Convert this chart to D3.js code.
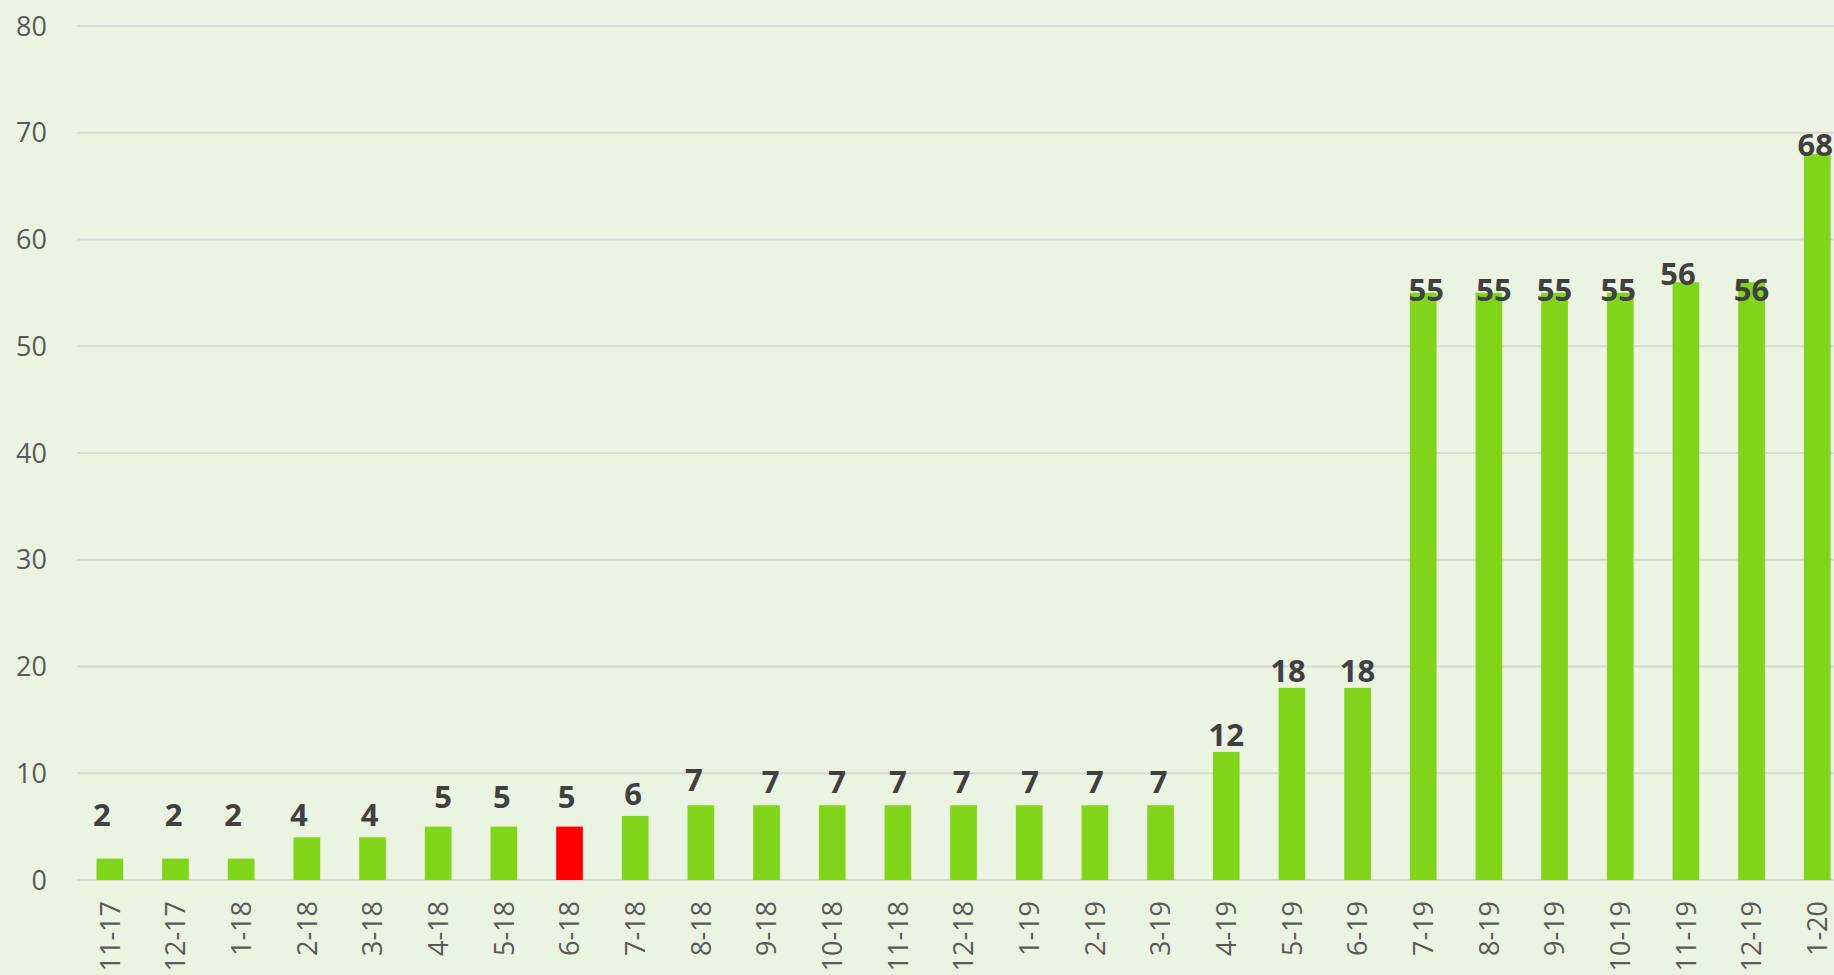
<!DOCTYPE html>
<html>
<head>
<meta charset="utf-8">
<script src="https://cdn.jsdelivr.net/npm/d3@7"></script>
<style>
  body { margin: 0; background: #ebf4e1; overflow: hidden; }
  svg { display: block; }
</style>
</head>
<body>
<div id="chart"></div>
<script>
// months (m-yy)
const categories = ["11-17", "12-17", "1-18", "2-18", "3-18", "4-18", "5-18", "6-18", "7-18",
  "8-18", "9-18", "10-18", "11-18", "12-18", "1-19", "2-19", "3-19", "4-19", "5-19", "6-19",
  "7-19", "8-19", "9-19", "10-19", "11-19", "12-19", "1-20"];
const values = [2, 2, 2, 4, 4, 5, 5, 5, 6, 7, 7, 7, 7, 7, 7, 7, 7, 12, 18, 18, 55, 55, 55, 55, 56, 56, 68];
const highlighted = ["6-18"];
const yTicks = [0, 10, 20, 30, 40, 50, 60, 70, 80];

// labels were dragged by hand in the original, so each one has its own small offset (px)
const labelNudgeY = [-33, -33, -33, -11, -11, -19, -19, -19, -11, -14, -12, -12, -12, -12, -12, -12, -12,
  -6, -6, -6, 8, 8, 8, 8, 3, 19, 2];
const labelNudgeX = [-8, -2, -8, -8, -3, 5, -2, -3, -2, -7, 4, 5, 0, -2, 1, 0, -2,
  0, -4, 0, 3, 5, 0, -2, -8, 0, -2];

const width = 1834;
const height = 975;
const left = 77;
const step = 65.67;

const svg = d3.select("#chart")
    .append("svg")
    .attr("width", width)
    .attr("height", height);

svg.append("rect")
    .attr("width", width)
    .attr("height", height)
    .attr("fill", "#ebf4e1");

const x = d3.scaleBand()
    .domain(categories)
    .range([left, left + step * categories.length])
    .paddingInner(0.594)
    .paddingOuter(0.297);

const y = d3.scaleLinear()
    .domain([0, 80])
    .range([880, 26]);

// gridlines
svg.append("g")
    .selectAll("line")
    .data(yTicks)
    .enter()
    .append("line")
    .attr("x1", left)
    .attr("x2", width)
    .attr("y1", d => y(d))
    .attr("y2", d => y(d))
    .attr("stroke", "#d9d9d9")
    .attr("stroke-width", 2);

// y axis labels
svg.append("g")
    .selectAll("text")
    .data(yTicks)
    .enter()
    .append("text")
    .attr("x", 47)
    .attr("y", d => y(d))
    .attr("dy", "0.36em")
    .attr("text-anchor", "end")
    .style("font-family", "'Open Sans', sans-serif")
    .style("font-size", "27px")
    .style("fill", "#595959")
    .text(d => d);

const data = categories.map((c, i) => ({
    cat: c, value: values[i], dx: labelNudgeX[i], dy: labelNudgeY[i]
}));

// bars
svg.append("g")
    .selectAll("rect")
    .data(data)
    .enter()
    .append("rect")
    .attr("x", d => x(d.cat))
    .attr("width", x.bandwidth())
    .attr("y", d => y(d.value))
    .attr("height", d => y(0) - y(d.value))
    .attr("fill", d => highlighted.includes(d.cat) ? "#ff0000" : "#80d41a");

// value labels
svg.append("g")
    .selectAll("text")
    .data(data)
    .enter()
    .append("text")
    .attr("x", d => x(d.cat) + x.bandwidth() / 2 + d.dx)
    .attr("y", d => y(d.value) + d.dy)
    .attr("text-anchor", "middle")
    .style("font-family", "'Open Sans', sans-serif")
    .style("font-weight", "bold")
    .style("font-size", "31px")
    .style("fill", "#404040")
    .text(d => d.value);

// category labels, rotated
svg.append("g")
    .selectAll("text")
    .data(categories)
    .enter()
    .append("text")
    .attr("transform", d => `translate(${x(d) + x.bandwidth() / 2},901) rotate(-90)`)
    .attr("dy", "0.36em")
    .attr("text-anchor", "end")
    .style("font-family", "'Open Sans', sans-serif")
    .style("font-size", "27px")
    .style("fill", "#595959")
    .text(d => d);
</script>
</body>
</html>
